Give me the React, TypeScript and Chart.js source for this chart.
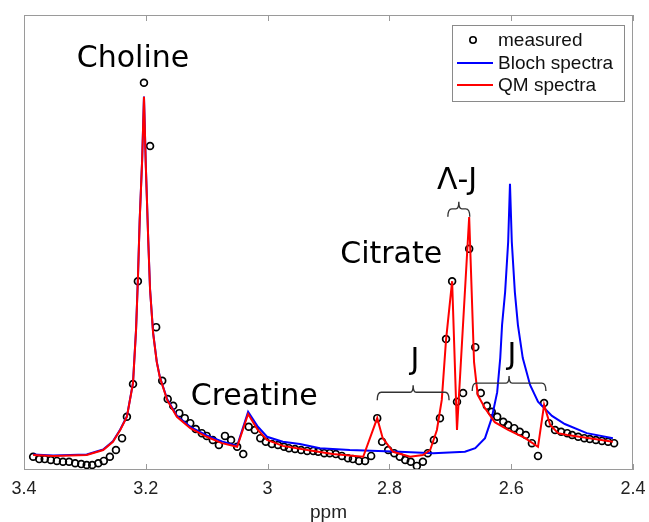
import React, { useEffect, useRef } from "react";
import { Chart, registerables } from "chart.js";

Chart.register(...registerables);

// ---- data (ppm, intensity in arbitrary units) ----
const measuredPpm = [3.385,3.375,3.366,3.356,3.346,3.336,3.326,3.316,3.306,3.297,3.288,3.278,3.269,3.259,3.249,3.239,3.231,3.221,3.213,3.203,3.193,3.183,3.173,3.164,3.155,3.145,3.136,3.127,3.118,3.108,3.100,3.090,3.080,3.070,3.060,3.050,3.040,3.031,3.021,3.012,3.003,2.993,2.983,2.973,2.965,2.955,2.945,2.935,2.925,2.917,2.907,2.898,2.888,2.878,2.868,2.860,2.850,2.840,2.830,2.820,2.812,2.802,2.792,2.783,2.774,2.765,2.755,2.745,2.737,2.727,2.717,2.707,2.697,2.689,2.679,2.669,2.659,2.650,2.640,2.632,2.623,2.613,2.605,2.595,2.586,2.576,2.566,2.556,2.546,2.538,2.528,2.518,2.508,2.500,2.490,2.480,2.471,2.461,2.451,2.441,2.431];
const measuredVal = [2.9,2.4,2.4,2.2,2.0,1.8,1.8,1.5,1.3,1.1,1.1,1.5,2.0,2.9,4.4,7.0,11.7,18.9,41.5,85.1,71.2,31.4,19.6,15.6,14.1,12.5,11.4,10.3,9.0,8.1,7.5,6.6,5.5,7.5,6.6,5.1,3.5,9.5,8.8,7.0,6.2,5.7,5.5,5.1,4.8,4.6,4.4,4.2,4.2,4.0,3.7,3.7,3.5,3.1,2.6,2.4,2.0,2.0,3.1,11.4,6.2,4.4,3.7,2.9,2.2,1.8,0.9,1.8,3.7,6.6,11.4,28.8,41.5,15.0,16.9,48.6,27.0,16.9,14.1,12.8,11.7,10.6,9.9,9.2,8.4,7.7,5.9,3.1,14.7,10.3,8.8,8.4,8.1,7.7,7.3,7.0,6.8,6.6,6.4,6.2,5.9];

const blochPpm = [3.385,3.352,3.297,3.270,3.254,3.242,3.231,3.221,3.216,3.213,3.210,3.206,3.203,3.200,3.196,3.193,3.188,3.182,3.177,3.165,3.149,3.127,3.100,3.075,3.050,3.032,3.017,3.001,2.975,2.947,2.914,2.865,2.783,2.728,2.676,2.659,2.643,2.632,2.623,2.618,2.615,2.610,2.605,2.602,2.599,2.594,2.589,2.581,2.569,2.556,2.533,2.512,2.476,2.433];
const blochVal = [3.4,3.2,3.4,4.5,6.3,8.9,11.8,19.2,30.9,41.9,55.1,68.2,82.1,67.1,50.6,39.7,30.2,23.8,20.5,15.6,11.9,9.5,7.6,6.3,5.3,12.8,9.7,7.3,6.2,5.7,4.8,4.4,4.0,3.7,4.0,4.8,7.0,11.4,17.1,24.6,31.9,39.1,50.1,62.9,50.1,39.1,31.9,24.6,18.7,15.0,11.9,10.1,8.1,7.0];

const qmPpm = [3.385,3.352,3.297,3.270,3.254,3.242,3.231,3.221,3.216,3.213,3.210,3.206,3.203,3.200,3.196,3.193,3.188,3.182,3.177,3.165,3.149,3.127,3.100,3.075,3.050,3.032,3.017,3.001,2.975,2.935,2.893,2.843,2.820,2.811,2.794,2.766,2.745,2.733,2.722,2.714,2.707,2.697,2.689,2.669,2.664,2.661,2.655,2.643,2.627,2.605,2.577,2.556,2.546,2.536,2.523,2.508,2.471,2.433];
const qmVal = [3.3,3.1,3.3,4.4,6.2,8.8,11.7,19.1,30.8,41.8,55.0,68.1,82.0,67.0,50.5,39.6,30.1,23.7,20.4,15.4,11.7,9.2,7.3,5.9,5.1,12.3,9.0,6.6,5.3,4.4,3.5,2.9,11.4,7.0,4.0,2.9,3.3,4.4,8.8,15.4,28.6,41.5,8.8,55.6,35.6,23.7,16.5,13.6,10.5,8.8,7.0,5.1,14.3,9.9,8.1,7.7,7.0,6.2];

const seriesNames = ["measured", "Bloch spectra", "QM spectra"];
const tickValues = [3.4, 3.2, 3.0, 2.8, 2.6, 2.4];
const tickLabels = ["3.4", "3.2", "3", "2.8", "2.6", "2.4"];
const axisTitle = "ppm";

// annotations (anchored in data coordinates)
const annotTexts = ["Choline", "Creatine", "Citrate", "Λ-J", "J", "J"];
const annotPpm = [3.221, 3.022, 2.797, 2.689, 2.758, 2.599];
const annotVal = [88.6, 14.3, 45.5, 61.8, 22.2, 23.3];

// braces: start ppm, end ppm, level
const braceStart = [2.704, 2.820, 2.664];
const braceEnd = [2.668, 2.702, 2.543];
const braceLevel = [57.4, 17.1, 19.1];

const toPoints = (xs: number[], ys: number[]) => xs.map((x, i) => ({ x, y: ys[i] }));

export default function App() {
  const ref = useRef<HTMLCanvasElement>(null);

  useEffect(() => {
    const canvas = ref.current!;
    const frameColor = "#9a9a9a";

    const decor = {
      id: "decor",
      afterDatasetsDraw(chart: any) {
        const { ctx, chartArea: a, scales } = chart;
        const xs = scales.x;
        const ys = scales.y;
        ctx.save();
        // frame
        ctx.strokeStyle = frameColor;
        ctx.lineWidth = 1;
        ctx.strokeRect(a.left + 0.5, a.top + 0.5, a.right - a.left - 1, a.bottom - a.top - 1);
        // inward ticks top and bottom
        tickValues.forEach((v) => {
          const px = Math.round(xs.getPixelForValue(v)) + 0.5;
          ctx.beginPath();
          ctx.moveTo(px, a.bottom);
          ctx.lineTo(px, a.bottom - 6);
          ctx.moveTo(px, a.top);
          ctx.lineTo(px, a.top + 6);
          ctx.stroke();
        });
        // annotation texts
        ctx.fillStyle = "#000";
        ctx.font = '30px "DejaVu Sans"';
        ctx.textAlign = "center";
        ctx.textBaseline = "alphabetic";
        annotTexts.forEach((t, i) => {
          ctx.fillText(t, xs.getPixelForValue(annotPpm[i]), ys.getPixelForValue(annotVal[i]));
        });
        // braces
        ctx.strokeStyle = "#333";
        ctx.lineWidth = 1.4;
        braceStart.forEach((s, i) => {
          const x1 = xs.getPixelForValue(s);
          const x2 = xs.getPixelForValue(braceEnd[i]);
          const y = ys.getPixelForValue(braceLevel[i]);
          const xm = (x1 + x2) / 2;
          ctx.beginPath();
          ctx.moveTo(x1, y + 8);
          ctx.quadraticCurveTo(x1, y, x1 + 4, y);
          ctx.lineTo(xm - 3, y);
          ctx.quadraticCurveTo(xm, y, xm, y - 7);
          ctx.quadraticCurveTo(xm, y, xm + 3, y);
          ctx.lineTo(x2 - 4, y);
          ctx.quadraticCurveTo(x2, y, x2, y + 8);
          ctx.stroke();
        });
        // legend box
        const bw = 172, bh = 76;
        const bx = a.right - 9 - bw;
        const by = a.top + 10;
        ctx.fillStyle = "#fff";
        ctx.fillRect(bx, by, bw, bh);
        ctx.strokeStyle = "#8a8a8a";
        ctx.lineWidth = 1;
        ctx.strokeRect(bx + 0.5, by + 0.5, bw, bh);
        const rows = [15, 38, 60];
        const dsets = chart.data.datasets;
        ctx.font = '19px "Liberation Sans", Arial, sans-serif';
        ctx.textAlign = "left";
        ctx.textBaseline = "middle";
        seriesNames.forEach((name, i) => {
          const ry = by + rows[i];
          const ds = dsets[i];
          if (i === 0) {
            ctx.beginPath();
            ctx.strokeStyle = ds.borderColor;
            ctx.lineWidth = 1.6;
            ctx.arc(bx + 21, ry, 3.2, 0, Math.PI * 2);
            ctx.stroke();
          } else {
            ctx.beginPath();
            ctx.strokeStyle = ds.borderColor;
            ctx.lineWidth = 2;
            ctx.moveTo(bx + 5, ry);
            ctx.lineTo(bx + 41, ry);
            ctx.stroke();
          }
          ctx.fillStyle = "#111";
          ctx.fillText(name, bx + 46, ry + 1);
        });
        ctx.restore();
      },
    };

    const chart = new Chart(canvas, {
      type: "line",
      data: {
        datasets: [
          {
            label: seriesNames[0],
            data: toPoints(measuredPpm, measuredVal),
            showLine: false,
            borderColor: "#000000",
            backgroundColor: "rgba(0,0,0,0)",
            pointStyle: "circle",
            pointRadius: 3.4,
            pointBorderWidth: 1.7,
            pointBorderColor: "#000000",
            pointBackgroundColor: "rgba(0,0,0,0)",
            order: 2,
          },
          {
            label: seriesNames[1],
            data: toPoints(blochPpm, blochVal),
            borderColor: "#0000ff",
            borderWidth: 2,
            pointRadius: 0,
            tension: 0,
            fill: false,
            order: 1,
          },
          {
            label: seriesNames[2],
            data: toPoints(qmPpm, qmVal),
            borderColor: "#ff0000",
            borderWidth: 2,
            pointRadius: 0,
            tension: 0,
            fill: false,
            order: 0,
          },
        ],
      },
      options: {
        animation: false,
        responsive: false,
        devicePixelRatio: 1,
        layout: { padding: { left: 24, right: 16, top: 15, bottom: 0 } },
        plugins: { legend: { display: false }, tooltip: { enabled: false } },
        scales: {
          x: {
            type: "linear",
            reverse: true,
            min: 2.4,
            max: 3.4,
            afterBuildTicks: (s: any) => {
              s.ticks = tickValues.map((v) => ({ value: v }));
            },
            afterFit: (s: any) => {
              s.height = 52;
              s.paddingLeft = 0;
              s.paddingRight = 0;
            },
            grid: { display: false, drawTicks: false },
            border: { display: false },
            ticks: {
              autoSkip: false,
              maxRotation: 0,
              padding: 8,
              color: "#222",
              font: { family: '"Liberation Sans", Arial, sans-serif', size: 18 },
              callback: (v: any) => {
                const i = tickValues.findIndex((t) => Math.abs(t - Number(v)) < 1e-9);
                return i >= 0 ? tickLabels[i] : "";
              },
            },
            title: {
              display: true,
              text: axisTitle,
              color: "#222",
              font: { family: '"Liberation Sans", Arial, sans-serif', size: 19, lineHeight: 1.0 },
              padding: { top: 0, bottom: 0 },
            },
          },
          y: { display: false, min: 0, max: 100 },
        },
      },
      plugins: [decor],
    });
    return () => chart.destroy();
  }, []);

  return (
    <div style={{ position: "absolute", left: 0, top: 0, width: 649, height: 522, background: "#fff" }}>
      <canvas ref={ref} width={649} height={522} style={{ display: "block", width: 649, height: 522 }} />
    </div>
  );
}
